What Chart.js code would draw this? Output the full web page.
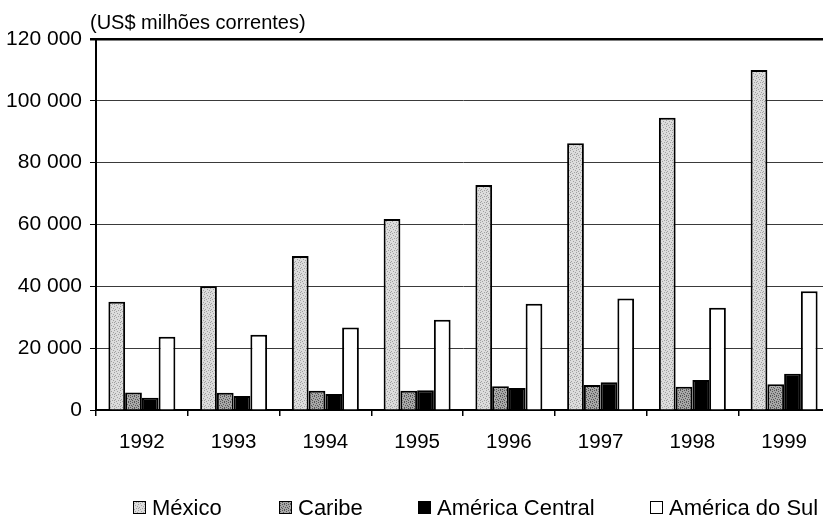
<!DOCTYPE html>
<html>
<head>
<meta charset="utf-8">
<script src="https://cdn.jsdelivr.net/npm/chart.js@4"></script>
<style>
  html, body { margin: 0; padding: 0; background: #fff; }
  #wrap { width: 823px; height: 520px; overflow: hidden; position: relative; }
  canvas { display: block; }
</style>
</head>
<body>
<div id="wrap"><canvas id="c" width="830" height="520"></canvas></div>
<script>
// Investimento estrangeiro acumulado por sub-região, 1992-1999
const years = ['1992', '1993', '1994', '1995', '1996', '1997', '1998', '1999'];
const mexico = [35000, 40000, 49800, 61800, 72800, 86300, 94500, 110000];
const caribe = [5700, 5600, 6200, 6200, 7700, 8100, 7500, 8300];
const americaCentral = [4000, 4500, 5200, 6400, 7100, 9000, 9700, 11700];
const americaSul = [23700, 24300, 26700, 29200, 34400, 36100, 33100, 38400];
const seriesNames = ['México', 'Caribe', 'América Central', 'América do Sul'];
const unitLabel = '(US$ milhões correntes)';

const FONT = "'Liberation Sans', Arial, sans-serif";

// fine halftone textures for the grey bars (fixed dot layout on a 6x6 tile)
function stipple(base, dot, dots) {
  const c = document.createElement('canvas');
  c.width = 6; c.height = 6;
  const g = c.getContext('2d');
  g.fillStyle = base; g.fillRect(0, 0, 6, 6);
  g.fillStyle = dot;
  dots.forEach(([x, y]) => g.fillRect(x, y, 1, 1));
  return g.createPattern(c, 'repeat');
}
const mexicoFill = stipple('#dcdcdc', '#a0a0a0',
  [[0, 0], [3, 1], [5, 2], [1, 3], [4, 4], [2, 5], [0, 4]]);
const caribeFill = stipple('#a8a8a8', '#555555',
  [[0, 0], [2, 0], [4, 1], [1, 2], [3, 3], [5, 3], [0, 4], [2, 5], [4, 5]]);

const fills = [mexicoFill, caribeFill, '#000000', '#ffffff'];

const fmt = v => String(v).replace(/\B(?=(\d{3})+(?!\d))/g, ' ');

// unit caption above the value axis
const captionPlugin = {
  id: 'caption',
  afterDraw(chart) {
    const ctx = chart.ctx;
    ctx.save();
    ctx.font = '20px ' + FONT;
    ctx.fillStyle = '#000';
    ctx.textAlign = 'left';
    ctx.textBaseline = 'alphabetic';
    ctx.fillText(unitLabel, 90, 29);
    ctx.restore();
  }
};

// legend row at the foot of the chart
const legendRow = {
  id: 'legendRow',
  afterDraw(chart, args, opts) {
    const ctx = chart.ctx;
    ctx.save();
    ctx.font = '22px ' + FONT;
    ctx.textBaseline = 'alphabetic';
    ctx.textAlign = 'left';
    chart.data.datasets.forEach((ds, i) => {
      const x = opts.xs[i];
      ctx.fillStyle = ds.backgroundColor;
      ctx.fillRect(x, opts.boxTop, 13, 13);
      ctx.strokeStyle = '#000';
      ctx.lineWidth = 1;
      ctx.strokeRect(x + 0.5, opts.boxTop + 0.5, 12, 12);
      ctx.fillStyle = '#000';
      ctx.fillText(ds.label, x + 19, opts.baseline);
    });
    ctx.restore();
  }
};

new Chart(document.getElementById('c'), {
  type: 'bar',
  data: {
    labels: years,
    datasets: [mexico, caribe, americaCentral, americaSul].map((d, i) => ({
      label: seriesNames[i],
      data: d,
      backgroundColor: fills[i],
      borderColor: '#000',
      borderWidth: 2,
      categoryPercentage: 0.73,
      barPercentage: 1.0
    }))
  },
  options: {
    responsive: false,
    animation: false,
    layout: { padding: { top: 39, left: 0, right: 0, bottom: 0 } },
    plugins: {
      legend: { display: false },
      tooltip: { enabled: false },
      legendRow: { xs: [133, 279, 418, 650], boxTop: 501, baseline: 515 }
    },
    scales: {
      x: {
        afterFit(s) { s.height = 110; },
        grid: {
          display: true,
          drawOnChartArea: false,
          drawTicks: true,
          tickLength: 6,
          color: '#000',
          lineWidth: 1.5,
          offset: true
        },
        border: { display: true, color: '#000', width: 2 },
        ticks: {
          color: '#000',
          font: { family: FONT, size: 20.5 },
          padding: 14,
          maxRotation: 0
        }
      },
      y: {
        min: 0,
        max: 120000,
        afterFit(s) { s.width = 96; },
        grid: {
          drawTicks: true,
          tickLength: 6,
          color: ctx => ctx.tick && ctx.tick.value === 120000 ? '#000' : '#3a3a3a',
          lineWidth: ctx => ctx.tick && ctx.tick.value === 120000 ? 2.5 : 1,
          tickColor: '#000'
        },
        border: { display: true, color: '#000', width: 2 },
        ticks: {
          stepSize: 20000,
          color: '#000',
          font: { family: FONT, size: 21 },
          padding: 8,
          callback: v => fmt(v)
        }
      }
    }
  },
  plugins: [captionPlugin, legendRow]
});
</script>
</body>
</html>
